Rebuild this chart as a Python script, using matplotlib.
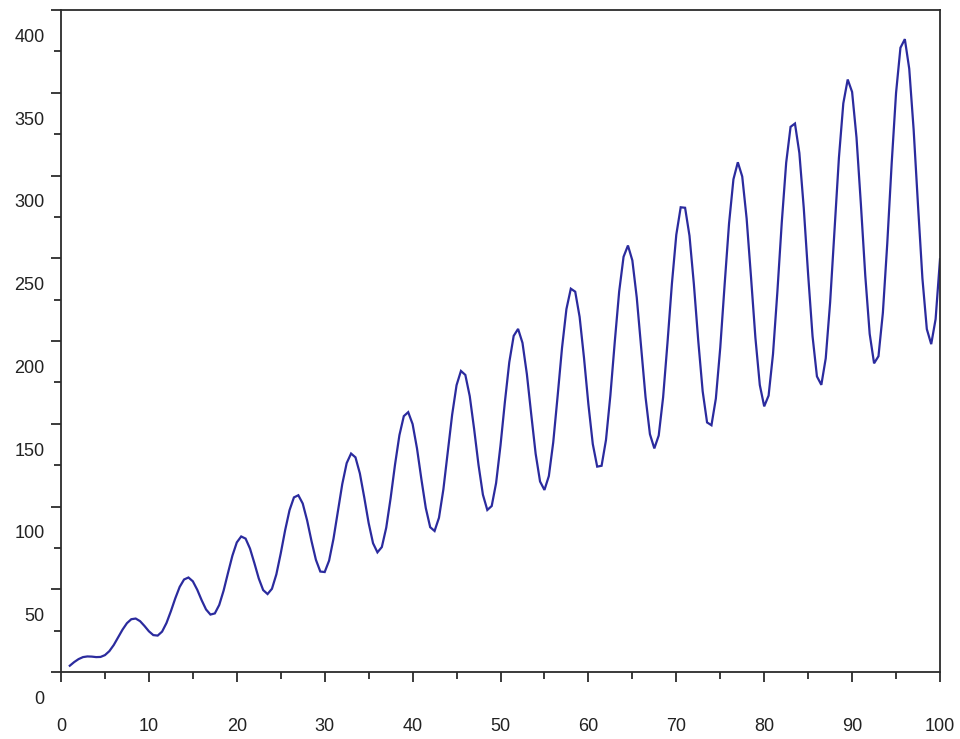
import numpy as np
import matplotlib
matplotlib.use("Agg")
import matplotlib.pyplot as plt
from matplotlib import transforms

x_start, x_end, x_step = 1.0, 100.0, 0.5
y_values = [
    3.8, 6.0, 7.8, 9.0, 9.4, 9.3, 9.0, 9.1, 10.2, 12.6,
    16.3, 20.9, 25.6, 29.5, 31.9, 32.3, 30.7, 27.8, 24.6, 22.3,
    22.0, 24.4, 29.6, 36.7, 44.5, 51.4, 55.9, 57.1, 54.8, 49.7,
    43.4, 37.8, 34.7, 35.4, 40.5, 49.2, 59.9, 70.3, 78.3, 81.9,
    80.6, 74.6, 65.8, 56.5, 49.5, 47.1, 50.3, 59.0, 71.7, 85.7,
    97.8, 105.5, 106.8, 101.8, 91.6, 79.1, 67.8, 60.7, 60.4, 67.3,
    80.5, 97.2, 113.6, 126.2, 132.0, 129.7, 120.0, 105.5, 90.0, 77.8,
    72.3, 75.5, 87.2, 105.1, 125.3, 143.1, 154.6, 157.0, 149.8, 135.1,
    116.5, 99.1, 87.5, 85.2, 93.2, 110.3, 132.8, 155.5, 173.3, 181.9,
    179.5, 166.7, 146.8, 125.1, 107.1, 97.9, 100.3, 114.2, 136.9, 163.2,
    187.2, 203.1, 207.3, 198.9, 180.0, 155.5, 131.8, 115.1, 110.0, 118.4,
    138.8, 166.8, 195.9, 219.3, 231.6, 229.8, 214.6, 189.8, 161.7, 137.7,
    124.1, 124.6, 140.2, 167.1, 199.5, 229.9, 250.9, 257.7, 248.7, 226.3,
    196.3, 166.1, 143.7, 135.1, 142.9, 166.0, 199.1, 234.6, 264.2, 280.8,
    280.5, 263.6, 234.3, 200.0, 169.6, 150.8, 149.1, 165.2, 195.9, 234.2,
    271.0, 297.7, 308.0, 299.4, 274.1, 238.6, 201.9, 173.4, 160.5, 167.0,
    192.0, 229.8, 271.7, 307.7, 329.4, 331.4, 313.6, 280.4, 240.0, 202.9,
    178.6, 173.5, 189.5, 223.3, 267.1, 310.7, 343.6, 358.0, 350.5, 323.0,
    282.6, 239.4, 204.3, 186.5, 190.8, 217.0, 258.9, 307.1, 349.9, 377.2,
    382.4, 364.5, 327.8, 281.8, 237.8, 207.2, 198.1, 213.2, 249.4,
]
x_values = np.linspace(x_start, x_end, len(y_values))

x_major = list(range(0, 101, 10))
x_minor = list(range(5, 100, 10))
y_major = list(range(0, 401, 50))
y_minor = list(range(25, 400, 50))
y_labels = [str(v) for v in y_major]

axis_color = "#2b2b2b"
line_color = "#2b2b9e"

plt.rcParams['font.family'] = ['Liberation Sans', 'DejaVu Sans']

fig = plt.figure(figsize=(9.6, 7.39), dpi=100)
ax = fig.add_axes([61 / 960, (739 - 672) / 739, 879 / 960, 662 / 739])

ax.plot(x_values, y_values, color=line_color, linewidth=1.6, solid_joinstyle='miter')

ax.set_xlim(0, 100)
ax.set_ylim(0, 400)

for s in ax.spines.values():
    s.set_color(axis_color)
    s.set_linewidth(1.3)

ax.set_xticks(x_major)
ax.set_xticks(x_minor, minor=True)
ax.set_xticklabels([str(v) for v in x_major])
ax.set_yticks(y_major)
ax.set_yticks(y_minor, minor=True)
ax.set_yticklabels([])

ax.tick_params(axis='both', which='major', direction='out', length=7.4,
               width=1.3, color=axis_color)
ax.tick_params(axis='both', which='minor', direction='out', length=5.0,
               width=1.3, color=axis_color)
ax.tick_params(axis='x', which='major', labelsize=13, pad=25.5, labelcolor='#222222')
ax.tick_params(top=False, right=False)

# y labels are drawn shifted below their ticks, as in the original
trans = transforms.offset_copy(ax.get_yaxis_transform(), fig=fig, x=-16.5, y=0, units='dots')
for v, lab in zip(y_major, y_labels):
    ax.text(0, v - 16.6, lab, transform=trans, ha='right', va='center',
            fontsize=13, color='#222222')

fig.savefig("out.png", dpi=100)
